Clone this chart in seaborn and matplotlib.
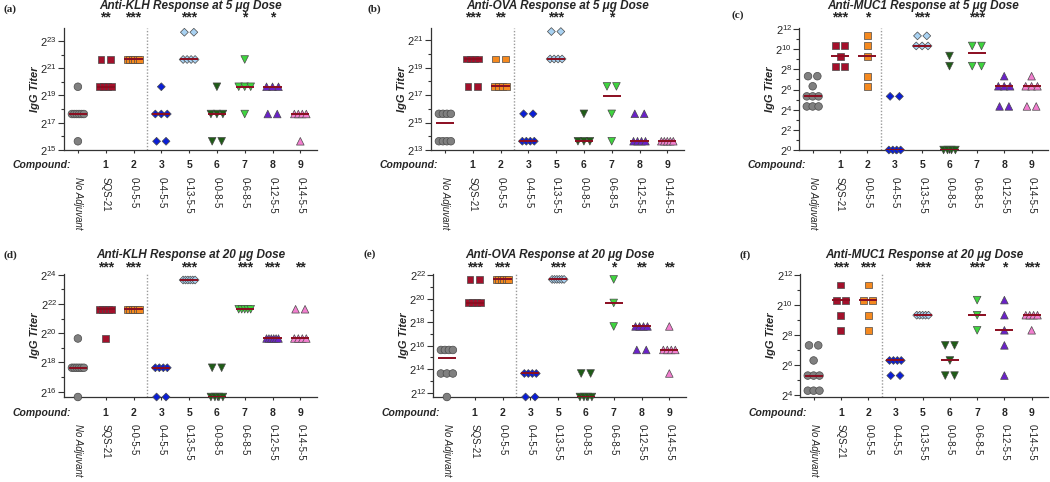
import numpy as np
import pandas as pd
import matplotlib
matplotlib.use('Agg')
import matplotlib.pyplot as plt
import seaborn as sns
from matplotlib.ticker import LogFormatterMathtext, NullFormatter

sns.set_style('ticks')
plt.rcParams['font.family'] = ['Liberation Sans', 'DejaVu Sans']
plt.rcParams['mathtext.fontset'] = 'custom'
plt.rcParams['mathtext.rm'] = 'Liberation Sans'

groups = ['No Adjuvant', 'SQS-21', '0-0-5-5', '0-4-5-5', '0-13-5-5',
          '0-0-8-5', '0-6-8-5', '0-12-5-5', '0-14-5-5']
compound_ids = ['', '1', '2', '3', '5', '6', '7', '8', '9']
colors = ['#808080', '#a3102b', '#f5891f', '#0a1ed6', '#a9d2f2',
          '#1f5c17', '#3ed43e', '#6a22c8', '#f27fcf']
markers = ['o', 's', 's', 'D', 'D', 'v', 'v', '^', '^']
marker_area = {'o': 30, 's': 25, 'D': 16, 'v': 30, '^': 30}

# log2 IgG titer of each mouse, one list per group
klh_5 = [
    [19.64, 17.64, 17.64, 17.64, 17.64, 17.64, 17.64, 15.64],
    [21.64, 21.64, 19.64, 19.64, 19.64, 19.64],
    [21.64, 21.64, 21.64, 21.64, 21.64, 21.64],
    [19.64, 17.64, 17.64, 17.64, 15.64, 15.64],
    [23.64, 23.64, 21.64, 21.64, 21.64, 21.64],
    [19.64, 17.64, 17.64, 17.64, 15.64, 15.64],
    [21.64, 19.64, 19.64, 19.64, 17.64],
    [19.64, 19.64, 19.64, 17.64, 17.64],
    [17.64, 17.64, 17.64, 17.64, 15.64],
]
ova_5 = [
    [15.64, 15.64, 15.64, 15.64, 13.64, 13.64, 13.64, 13.64],
    [19.64, 19.64, 19.64, 19.64, 17.64, 17.64],
    [19.64, 19.64, 17.64, 17.64, 17.64, 17.64],
    [15.64, 15.64, 13.64, 13.64, 13.64, 13.64],
    [21.64, 21.64, 19.64, 19.64, 19.64, 19.64],
    [15.64, 13.64, 13.64, 13.64],
    [17.64, 17.64, 15.64, 13.64],
    [15.64, 15.64, 13.64, 13.64, 13.64, 13.64],
    [13.64, 13.64, 13.64, 13.64, 13.64],
]
muc1_5 = [
    [7.32, 7.32, 6.32, 5.32, 5.32, 5.32, 4.32, 4.32, 4.32],
    [10.32, 10.32, 9.32, 8.32, 8.32],
    [11.32, 10.32, 9.32, 7.32, 6.32],
    [5.32, 5.32, 0, 0, 0, 0],
    [11.32, 11.32, 10.32, 10.32, 10.32],
    [9.32, 8.32, 0, 0, 0, 0],
    [10.32, 10.32, 8.32, 8.32],
    [7.32, 6.32, 6.32, 6.32, 4.32, 4.32],
    [7.32, 6.32, 6.32, 6.32, 4.32, 4.32],
]
klh_20 = [
    [19.64, 17.64, 17.64, 17.64, 17.64, 17.64, 17.64, 15.64],
    [21.64, 21.64, 21.64, 21.64, 21.64, 19.64],
    [21.64, 21.64, 21.64, 21.64, 21.64, 21.64],
    [17.64, 17.64, 17.64, 17.64, 15.64, 15.64],
    [23.64, 23.64, 23.64, 23.64, 23.64, 23.64],
    [17.64, 17.64, 15.64, 15.64, 15.64, 15.64],
    [21.64, 21.64, 21.64, 21.64, 21.64],
    [19.64, 19.64, 19.64, 19.64, 19.64, 19.64],
    [21.64, 21.64, 19.64, 19.64, 19.64, 19.64],
]
ova_20 = [
    [15.64, 15.64, 15.64, 15.64, 13.64, 13.64, 13.64, 11.64],
    [21.64, 21.64, 19.64, 19.64, 19.64, 19.64],
    [21.64, 21.64, 21.64, 21.64, 21.64, 21.64],
    [13.64, 13.64, 13.64, 13.64, 11.64, 11.64],
    [21.64, 21.64, 21.64, 21.64, 21.64, 21.64],
    [13.64, 13.64, 11.64, 11.64, 11.64, 11.64],
    [21.64, 19.64, 17.64],
    [17.64, 17.64, 17.64, 17.64, 15.64, 15.64],
    [17.64, 15.64, 15.64, 15.64, 15.64, 13.64],
]
muc1_20 = [
    [7.32, 7.32, 6.32, 5.32, 5.32, 5.32, 4.32, 4.32, 4.32],
    [11.32, 10.32, 10.32, 9.32, 8.32],
    [11.32, 10.32, 10.32, 9.32, 8.32],
    [6.32, 6.32, 6.32, 6.32, 5.32, 5.32],
    [9.32, 9.32, 9.32, 9.32, 9.32],
    [7.32, 7.32, 6.32, 5.32, 5.32],
    [10.32, 9.32, 8.32],
    [10.32, 9.32, 8.32, 7.32, 5.32],
    [9.32, 9.32, 9.32, 9.32, 8.32],
]

stars_klh_5 = ['', '**', '***', '', '***', '', '*', '*', '']
stars_ova_5 = ['', '***', '**', '', '***', '', '*', '', '']
stars_muc1_5 = ['', '***', '*', '', '***', '', '***', '', '']
stars_klh_20 = ['', '***', '***', '', '***', '', '***', '***', '**']
stars_ova_20 = ['', '***', '***', '', '***', '', '*', '**', '**']
stars_muc1_20 = ['', '***', '***', '', '***', '', '***', '*', '***']

W, H = 1050, 482
fig = plt.figure(figsize=(W / 100, H / 100), dpi=100)

# label, title, data, stars, ylim (log2), first major, last major, axes box in px, label pos px
panels = [
    ('(a)', 'Anti-KLH Response at 5 \u03bcg Dose', klh_5, stars_klh_5, (15, 23.95), 15, 23,
     (64, 28, 317, 150), (3, 9)),
    ('(b)', 'Anti-OVA Response at 5 \u03bcg Dose', ova_5, stars_ova_5, (13, 21.9), 13, 21,
     (431, 28, 684, 150), (367, 9)),
    ('(c)', 'Anti-MUC1 Response at 5 \u03bcg Dose', muc1_5, stars_muc1_5, (0, 12.1), 0, 12,
     (799, 28, 1048, 150), (732, 15)),
    ('(d)', 'Anti-KLH Response at 20 \u03bcg Dose', klh_20, stars_klh_20, (15.64, 24.05), 16, 24,
     (64, 274, 317, 397), (3, 255)),
    ('(e)', 'Anti-OVA Response at 20 \u03bcg Dose', ova_20, stars_ova_20, (11.64, 22.1), 12, 22,
     (433, 274, 686, 397), (363, 254)),
    ('(f)', 'Anti-MUC1 Response at 20 \u03bcg Dose', muc1_20, stars_muc1_20, (3.9, 12.05), 4, 12,
     (800, 274, 1048, 397), (740, 255)),
]


def spread(n):
    # side-by-side offsets for mice sharing the same titer
    if n == 1:
        return np.array([0.0])
    step = min(0.34, 0.43 / (n - 1))
    return (np.arange(n) - (n - 1) / 2) * step


palette = dict(zip(groups, colors))
marker_map = dict(zip(groups, markers))
size_map = {g: marker_area[m] for g, m in zip(groups, markers)}

for label, title, data, stars, ylim, lo, hi, box, lab_pos in panels:
    x0, y0, x1, y1 = box
    ax = fig.add_axes([x0 / W, 1 - y1 / H, (x1 - x0) / W, (y1 - y0) / H])

    rows = []
    for gi, vals in enumerate(data):
        for v in sorted(set(vals)):
            n = vals.count(v)
            for off in spread(n):
                rows.append((groups[gi], gi + off, 2.0 ** v))
    df = pd.DataFrame(rows, columns=['group', 'pos', 'titer'])

    sns.scatterplot(data=df, x='pos', y='titer', hue='group', style='group', size='group',
                    palette=palette, markers=marker_map, sizes=size_map,
                    edgecolor='#4a4a4a', linewidth=0.5, legend=False, ax=ax,
                    zorder=3, clip_on=False)

    # median line per group (median of titers)
    for gi, vals in enumerate(data):
        med = np.median(2.0 ** np.array(vals))
        ax.hlines(med, gi - 0.33, gi + 0.33, color='#8b0d20', lw=1.4, zorder=4)

    ax.axvline(2.5, color='#9a9a9a', ls=(0, (1, 1.3)), lw=1, zorder=1)

    ax.set_yscale('log', base=2)
    ax.set_ylim(2.0 ** ylim[0], 2.0 ** ylim[1])
    ax.set_xlim(-0.5, 8.6)
    majors = [2.0 ** k for k in range(lo, hi + 1, 2)]
    minors = [2.0 ** k for k in range(int(np.ceil(ylim[0])), int(ylim[1]) + 1)
              if 2.0 ** k not in majors]
    ax.set_yticks(majors)
    ax.set_yticks(minors, minor=True)
    ax.yaxis.set_major_formatter(LogFormatterMathtext(base=2))
    ax.yaxis.set_minor_formatter(NullFormatter())
    ax.tick_params(axis='y', which='major', length=4, width=0.8, labelsize=8, pad=1,
                   color='#333333')
    ax.tick_params(axis='y', which='minor', length=2, width=0.8, color='#333333')

    ax.set_xticks(range(len(groups)))
    ax.set_xticklabels(groups, rotation=270, fontsize=7)
    for t in ax.get_xticklabels():
        t.set_va('top')
        t.set_ha('center')
    ax.tick_params(axis='x', length=2.5, width=0.8, pad=17, color='#333333')
    ax.get_xticklabels()[0].set_fontstyle('italic')

    sns.despine(ax=ax)
    for side in ['left', 'bottom']:
        ax.spines[side].set_color('#333333')
        ax.spines[side].set_linewidth(0.9)

    ax.set_xlabel('')
    ax.set_ylabel('IgG Titer', fontsize=8, fontweight='bold', fontstyle='italic', labelpad=0)

    tr = ax.get_xaxis_transform()
    num_y = (y1 - (y1 + 15.5)) / (y1 - y0)
    star_y = (y1 - (y0 - 11 if y0 < 100 else y0 - 7)) / (y1 - y0)
    title_y = (y1 - (y0 - 22 if y0 < 100 else y0 - 19)) / (y1 - y0)
    ax.text(-0.25, num_y, 'Compound:', transform=tr, ha='right', va='center',
            fontsize=7.5, fontweight='bold', fontstyle='italic')
    for gi, cid in enumerate(compound_ids):
        ax.text(gi, num_y, cid, transform=tr, ha='center', va='center',
                fontsize=7.5, fontweight='bold')
        if stars[gi]:
            ax.text(gi, star_y, stars[gi], transform=tr, ha='center', va='center',
                    fontsize=10, fontweight='bold')
    ax.text(0.5, title_y, title, transform=ax.transAxes, ha='center', va='center',
            fontsize=8.5, fontweight='bold', fontstyle='italic')

    fig.text(lab_pos[0] / W, 1 - lab_pos[1] / H, label, ha='left', va='center',
             fontsize=8, fontweight='bold', family='Liberation Serif')

fig.savefig('out.png', dpi=100)
